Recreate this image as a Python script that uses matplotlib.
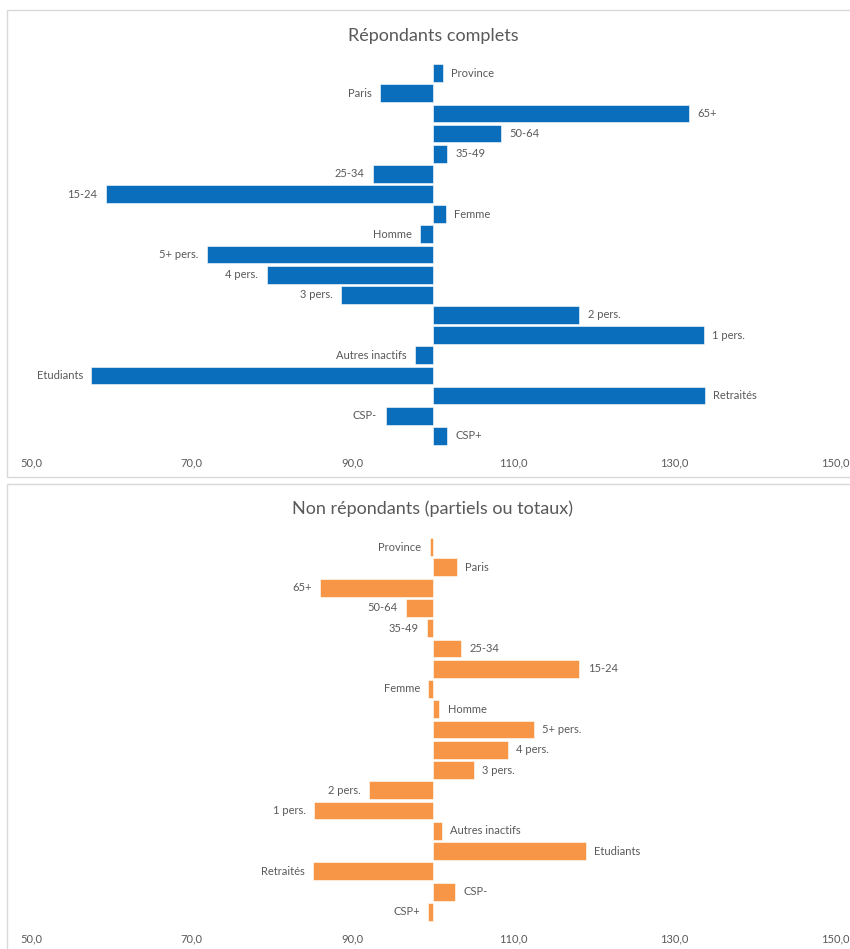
import matplotlib.pyplot as plt
from matplotlib.patches import Rectangle

plt.rcParams['font.family'] = ['Lato', 'DejaVu Sans']

categories = ["Province", "Paris", "65+", "50-64", "35-49", "25-34", "15-24",
              "Femme", "Homme", "5+ pers.", "4 pers.", "3 pers.", "2 pers.",
              "1 pers.", "Autres inactifs", "Etudiants", "Retraités", "CSP-", "CSP+"]

complets = [101.2, 93.4, 131.8, 108.5, 101.8, 92.5, 59.3,
            101.6, 98.4, 71.9, 79.3, 88.6, 118.2,
            133.7, 97.8, 57.5, 133.8, 94.1, 101.7]

non_repondants = [99.6, 103.0, 86.0, 96.6, 99.3, 103.5, 118.2,
                  99.4, 100.8, 112.5, 109.3, 105.1, 92.1,
                  85.2, 101.1, 119.0, 85.1, 102.7, 99.4]

titles = ["Répondants complets", "Non répondants (partiels ou totaux)"]
ticks = [50, 70, 90, 110, 130, 150]
base = 100
grey = '#595959'

W, H = 850, 949
fig = plt.figure(figsize=(W / 100, H / 100), dpi=100)

# panel frames (pixels from top-left)
for top, bottom in [(10, 477), (484, 960)]:
    fig.patches.append(Rectangle((7 / W, 1 - bottom / H), (W + 10) / W, (bottom - top) / H,
                                 transform=fig.transFigure, fill=False,
                                 edgecolor='#d9d9d9', linewidth=1))

# axes boxes: (top px, bottom px, title y px)
boxes = [(63, 446, 35), (537, 922, 508)]
colors = ['#0A6EBD', '#F79646']
series = [complets, non_repondants]

for (top, bottom, ty), vals, col, title in zip(boxes, series, colors, titles):
    ax = fig.add_axes([31 / W, 1 - bottom / H, 804 / W, (bottom - top) / H])
    y = range(len(categories))
    widths = [v - base for v in vals]
    ax.barh(y, widths, left=base, height=0.88, color=col, edgecolor='white', linewidth=0.4)
    for i, (v, lab) in enumerate(zip(vals, categories)):
        if v >= base:
            ax.annotate(lab, (v, i), xytext=(6, 0), textcoords='offset points',
                        ha='left', va='center', fontsize=8, color=grey)
        else:
            ax.annotate(lab, (v, i), xytext=(-6, 0), textcoords='offset points',
                        ha='right', va='center', fontsize=8, color=grey)
    ax.set_xlim(50, 150)
    ax.set_ylim(len(categories) - 0.5, -0.5)
    ax.set_xticks(ticks)
    ax.set_xticklabels([f"{t:.1f}".replace('.', ',') for t in ticks], fontsize=8, color=grey)
    ax.set_yticks([])
    ax.tick_params(axis='x', length=0, pad=8)
    for s in ax.spines.values():
        s.set_visible(False)
    fig.text((31 + 402) / W, 1 - (ty + 1) / H, title, ha='center', va='center',
             fontsize=13, color=grey)

fig.savefig('out.png', dpi=100)
